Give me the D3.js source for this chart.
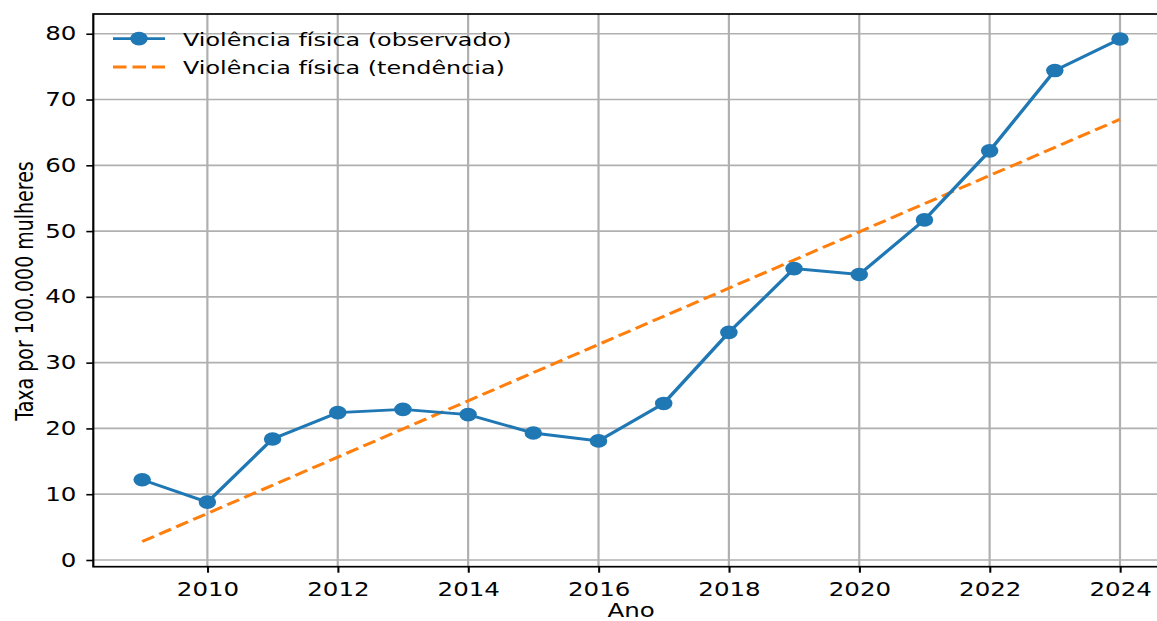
<!DOCTYPE html>
<html>
<head>
<meta charset="utf-8">
<script src="https://cdn.jsdelivr.net/npm/d3@7"></script>
<style>
  html, body { margin: 0; padding: 0; background: #fff; overflow: hidden; }
  svg { display: block; }
  text { font-family: "DejaVu Sans", sans-serif; fill: #000; }
</style>
</head>
<body>
<script>
// ---- data ----
const years = [2009, 2010, 2011, 2012, 2013, 2014, 2015, 2016, 2017, 2018, 2019, 2020, 2021, 2022, 2023, 2024];
const observed = [12.2, 8.8, 18.4, 22.4, 22.9, 22.1, 19.3, 18.1, 23.8, 34.6, 44.3, 43.4, 51.7, 62.2, 74.4, 79.2];
const trendYears = [2009, 2024];
const trendValues = [2.8, 67.0];
const xTicks = [2010, 2012, 2014, 2016, 2018, 2020, 2022, 2024];
const yTicks = [0, 10, 20, 30, 40, 50, 60, 70, 80];
const seriesLabels = ["Violência física (observado)", "Violência física (tendência)"];
const xLabel = "Ano";
const yLabel = "Taxa por 100.000 mulheres";

// ---- layout (picture is stretched horizontally) ----
const S = 1.29;                 // horizontal stretch
const PW = 1157, PH = 621;
const W = PW / S;
const FS = 19;
const LW = 2.9, R = 6.8, DASH = "10.5 4.6";
const blue = "#1f77b4", orange = "#ff7f0e", gridC = "#b0b0b0";

const svg = d3.select("body").append("svg")
  .attr("width", PW).attr("height", PH)
  .attr("viewBox", `0 0 ${W} ${PH}`)
  .attr("preserveAspectRatio", "none");

const x = d3.scaleLinear().domain([2008.25, 2024.75]).range([93.3 / S, 1168.9 / S]);
const y = d3.scaleLinear().domain([-1.02, 83.0]).range([566.7, 14]);
const [x0, x1] = x.range();
const [yb, yt] = y.range();

// grid
const grid = svg.append("g");
grid.selectAll("line.v").data(xTicks).join("line")
  .attr("x1", d => x(d)).attr("x2", d => x(d))
  .attr("y1", yt).attr("y2", yb)
  .attr("stroke", gridC).attr("stroke-width", 1.7);
grid.selectAll("line.h").data(yTicks).join("line")
  .attr("x1", x0).attr("x2", x1)
  .attr("y1", d => y(d)).attr("y2", d => y(d))
  .attr("stroke", gridC).attr("stroke-width", 1.7);

// trend
const line = d3.line().x(d => x(d[0])).y(d => y(d[1]));
svg.append("path")
  .datum(trendYears.map((t, i) => [t, trendValues[i]]))
  .attr("d", line).attr("fill", "none")
  .attr("stroke", orange).attr("stroke-width", LW)
  .attr("stroke-dasharray", DASH);

// observed
svg.append("path")
  .datum(years.map((t, i) => [t, observed[i]]))
  .attr("d", line).attr("fill", "none")
  .attr("stroke", blue).attr("stroke-width", LW);
svg.selectAll("circle.pt").data(years.map((t, i) => [t, observed[i]])).join("circle")
  .attr("cx", d => x(d[0])).attr("cy", d => y(d[1]))
  .attr("r", R).attr("fill", blue);

// axes
const gx = svg.append("g").attr("transform", `translate(0,${yb})`)
  .call(d3.axisBottom(x).tickValues(xTicks).tickFormat(d3.format("d")).tickSize(6).tickPadding(9.8));
const gy = svg.append("g").attr("transform", `translate(${x0},0)`)
  .call(d3.axisLeft(y).tickValues(yTicks).tickFormat(d3.format("d")).tickSize(5.4).tickPadding(7.75));
[gx, gy].forEach(g => {
  g.select(".domain").remove();
  g.selectAll(".tick line").attr("stroke", "#000").attr("stroke-width", 1.6);
  g.selectAll(".tick text").attr("font-size", FS).attr("font-family", "DejaVu Sans").attr("fill", "#000");
});

// spines
svg.append("rect")
  .attr("x", x0).attr("y", yt).attr("width", x1 - x0).attr("height", yb - yt)
  .attr("fill", "none").attr("stroke", "#000").attr("stroke-width", 1.7);

// axis labels
svg.append("text")
  .attr("x", (x0 + x1) / 2).attr("y", 617.5)
  .attr("text-anchor", "middle").attr("font-size", FS).text(xLabel);
svg.append("text")
  .attr("transform", `translate(${33 / S},291) rotate(-90)`)
  .attr("text-anchor", "middle").attr("font-size", FS).text(yLabel);

// legend
const lg = svg.append("g");
const rows = [38.6, 67.0];
lg.append("line").attr("x1", 113 / S).attr("x2", 165 / S).attr("y1", rows[0]).attr("y2", rows[0])
  .attr("stroke", blue).attr("stroke-width", LW);
lg.append("circle").attr("cx", 139 / S).attr("cy", rows[0]).attr("r", R).attr("fill", blue);
lg.append("line").attr("x1", 113 / S).attr("x2", 165 / S).attr("y1", rows[1]).attr("y2", rows[1])
  .attr("stroke", orange).attr("stroke-width", LW).attr("stroke-dasharray", DASH);
lg.selectAll("text").data(seriesLabels).join("text")
  .attr("x", 183 / S).attr("y", (d, i) => rows[i] + 7.2)
  .attr("font-size", 18.5).text(d => d);
</script>
</body>
</html>
